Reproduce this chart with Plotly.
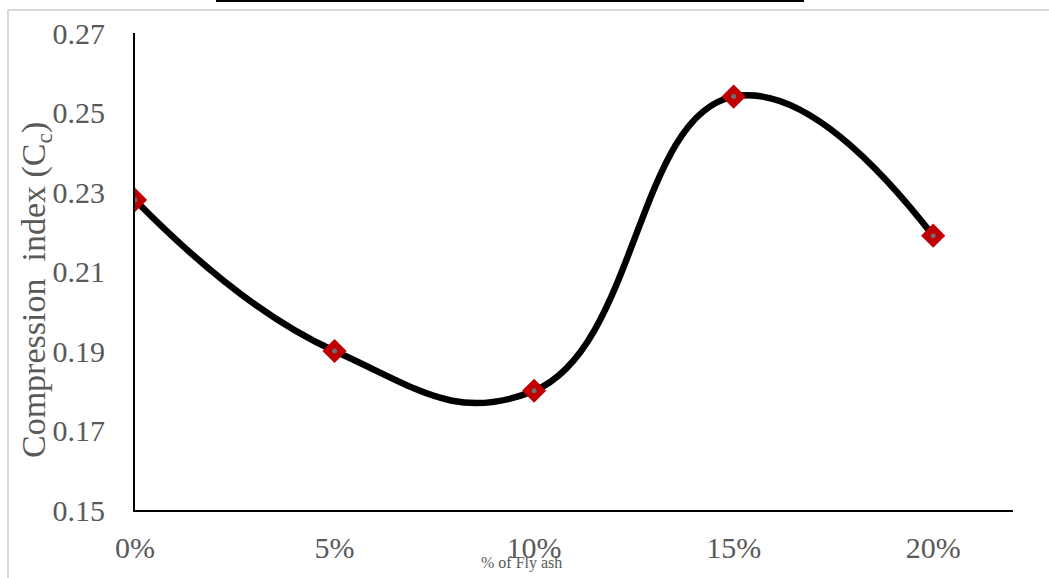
import plotly.graph_objects as go

# Compression index versus fly ash content
categories = ["0%", "5%", "10%", "15%", "20%"]
positions = [0, 1, 2, 3, 4]
cc_values = [0.228, 0.190, 0.180, 0.254, 0.219]
y_ticks = [0.15, 0.17, 0.19, 0.21, 0.23, 0.25, 0.27]

W, H = 1049, 578
L, R, T, B = 135, 36, 33, 68

fig = go.Figure()

# smoothed curve
fig.add_trace(go.Scatter(
    x=positions, y=cc_values, mode="lines",
    line=dict(color="black", width=6.5, shape="spline", smoothing=1.3),
    hoverinfo="skip", showlegend=False,
))
# diamond markers
fig.add_trace(go.Scatter(
    x=positions, y=cc_values, mode="markers",
    marker=dict(symbol="diamond", size=17, color="#C00000",
                line=dict(color="#C00000", width=1.5)),
    showlegend=False,
))
# small grey centre dots
fig.add_trace(go.Scatter(
    x=positions, y=cc_values, mode="markers",
    marker=dict(symbol="circle", size=5, color="#6E6E6E"),
    hoverinfo="skip", showlegend=False,
))

serif = "Liberation Serif, Times New Roman, serif"
tick_font = dict(family=serif, size=30, color="#595959")

fig.update_layout(
    width=W, height=H,
    margin=dict(l=L, r=R, t=T, b=B),
    paper_bgcolor="white", plot_bgcolor="white",
    xaxis=dict(
        range=[0, 4.4], tickmode="array", tickvals=positions, ticktext=categories,
        showgrid=False, zeroline=False, showline=True, linecolor="black", linewidth=2,
        ticks="", tickfont=tick_font, ticklabelstandoff=10,
    ),
    yaxis=dict(
        range=[0.15, 0.27], tickmode="array", tickvals=y_ticks,
        ticktext=[f"{v:.2f}" for v in y_ticks],
        showgrid=False, zeroline=False, showline=True, linecolor="black", linewidth=2,
        ticks="", tickfont=tick_font, ticklabelstandoff=22,
    ),
    annotations=[
        dict(text="% of Fly ash", xref="paper", yref="paper",
             x=(521 - L) / (W - L - R), y=-(563 - (H - B)) / (H - T - B),
             xanchor="center", yanchor="middle", showarrow=False,
             font=dict(family=serif, size=16, color="#595959")),
        dict(text="Compression  index (C<sub>c</sub>)", xref="paper", yref="paper",
             x=-(L - 36) / (W - L - R), y=(H - B - 290) / (H - T - B),
             xanchor="center", yanchor="middle", textangle=-90, showarrow=False,
             font=dict(family=serif, size=34, color="#595959")),
    ],
    shapes=[
        # outer chart frame (top and left edges)
        dict(type="line", xref="paper", yref="paper",
             x0=(8 - L) / (W - L - R), x1=(W - L) / (W - L - R),
             y0=(H - B - 10) / (H - T - B), y1=(H - B - 10) / (H - T - B),
             line=dict(color="#D9D9D9", width=2)),
        dict(type="line", xref="paper", yref="paper",
             x0=(8 - L) / (W - L - R), x1=(8 - L) / (W - L - R),
             y0=(H - B - 10) / (H - T - B), y1=-(B + 5) / (H - T - B),
             line=dict(color="#D9D9D9", width=2)),
        # rule above the chart
        dict(type="line", xref="paper", yref="paper",
             x0=(216 - L) / (W - L - R), x1=(804 - L) / (W - L - R),
             y0=(H - B - 1) / (H - T - B), y1=(H - B - 1) / (H - T - B),
             line=dict(color="black", width=2)),
    ],
)

fig.write_html("out.html")
